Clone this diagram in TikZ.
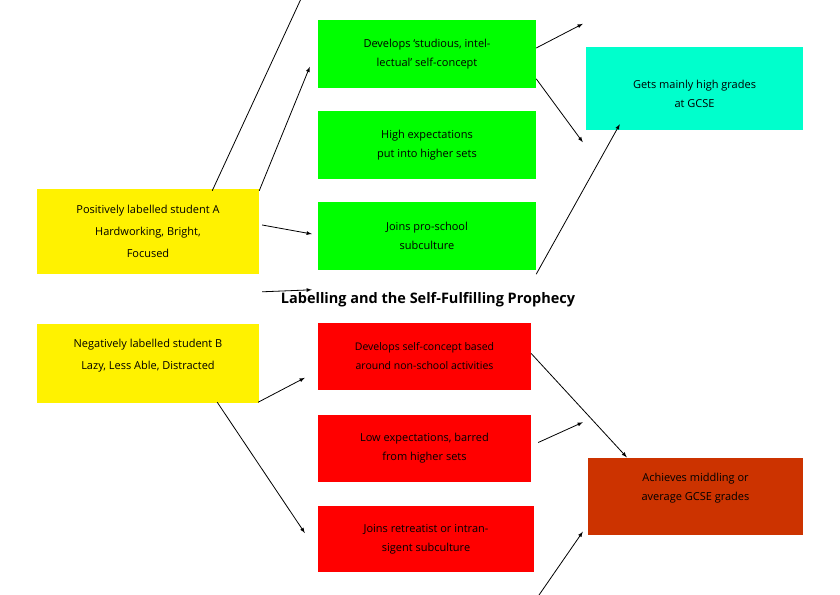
\documentclass[tikz,border=0pt]{standalone}
\usepackage{fontspec}
\setmainfont{Open Sans}
\definecolor{cyanbox}{RGB}{0,255,204}
\definecolor{orangebox}{RGB}{204,51,0}
\begin{document}
\begin{tikzpicture}[x=1pt,y=-1pt,
  box/.style={draw=none,minimum width=#1,align=center,inner sep=2pt,font=\fontsize{11}{19}\selectfont},
  arr/.style={-latex,thick,black}]
\useasboundingbox (0,0) rectangle (840,594);
\fill[yellow] (37,189) rectangle (259,274);
\node (A) at (148,231.5) [box=222, minimum height=85] {};
\node at (148,231.5) [align=center,font=\fontsize{11}{22}\selectfont] {Positively labelled student A\\Hardworking, Bright,\\Focused};
\fill[green] (318,20) rectangle (536,88);
\node (G1) at (427,54) [box=218,minimum height=68] {Develops ‘studious, intel-\\lectual’ self-concept};
\fill[green] (318,111) rectangle (536,179);
\node (G2) at (427,145) [box=218,minimum height=68] {High expectations\\put into higher sets};
\fill[green] (318,202) rectangle (536,270);
\node (G3) at (427,236) [box=218,minimum height=68] {Joins pro-school\\subculture};
\fill[cyanbox] (586,47) rectangle (803,130);
\node (C) at (694.5,88.5) [box=217,minimum height=83,anchor=center] {};
\node at (694.5,88) [align=center,font=\fontsize{11}{19}\selectfont,yshift=-6] {Gets mainly high grades\\at GCSE};
\node (T) at (428,300) [font=\bfseries\fontsize{14.5}{17}\selectfont] {Labelling and the Self-Fulfilling Prophecy};
\fill[yellow] (37,324) rectangle (259,403);
\node (B) at (148,363.5) [box=222,minimum height=79] {};
\node at (148,356) [align=center,font=\fontsize{11}{22}\selectfont] {Negatively labelled student B\\Lazy, Less Able, Distracted};
\fill[red] (318,323) rectangle (531,390);
\node (R1) at (424.5,356.5) [box=213,minimum height=67,font=\fontsize{10.5}{19}\selectfont] {Develops self-concept based\\around non-school activities};
\fill[red] (318,415) rectangle (531,482);
\node (R2) at (424.5,448.5) [box=213,minimum height=67] {Low expectations, barred\\from higher sets};
\fill[red] (318,506) rectangle (534,572);
\node (R3) at (426,539) [box=216,minimum height=66] {Joins retreatist or intran-\\sigent subculture};
\fill[orangebox] (588,458) rectangle (803,535);
\node (O) at (695.5,488) [box=215,minimum height=77] {Achieves middling or\\average GCSE grades};
\draw[arr] ([xshift=-47,yshift=-2]A.north east) -- ([xshift=-8,yshift=40]G1.north west);
\draw[arr] ([yshift=-2]A.north east) -- ([xshift=-8,yshift=44]G2.north west);
\draw[arr] ([xshift=3,yshift=6.5]A.east) -- ([xshift=-6,yshift=2]G3.west);
\draw[arr] ([yshift=6]G1.east) -- ([xshift=-3,yshift=23]C.north west);
\draw[arr] ([yshift=32]G2.north east) -- ([xshift=-3,yshift=-12]C.south west);
\draw[arr] ([yshift=-4]G3.south east) -- ([xshift=34,yshift=6]C.south west);
\draw[arr] ([xshift=3,yshift=32]B.north east) -- ([xshift=-6,yshift=33]R1.north west);
\draw[arr] ([xshift=-1,yshift=1]B.south east) -- ([xshift=-13,yshift=37]R2.north west);
\draw[arr] ([xshift=-42,yshift=1]B.south east) -- ([xshift=-13,yshift=6]R3.west);
\draw[arr] ([yshift=3]R1.east) -- ([xshift=39,yshift=-8]O.north west);
\draw[arr] ([xshift=7,yshift=6]R2.east) -- ([xshift=-5,yshift=27]O.north west);
\draw[arr] ([xshift=4,yshift=-24]R3.south east) -- ([xshift=-5,yshift=-5]O.south west);
\end{tikzpicture}
\end{document}
